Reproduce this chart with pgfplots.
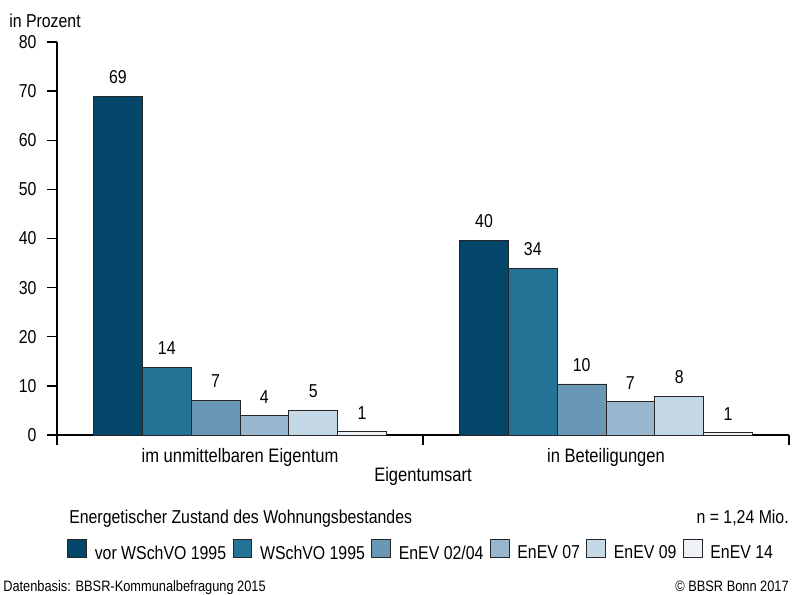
\documentclass[border=0pt]{standalone}
\usepackage{pgfplots}
\pgfplotsset{compat=1.18}
\usepackage{fontspec}
\setmainfont{Liberation Sans}[FakeStretch=0.85]
\definecolor{cA}{HTML}{03466A}
\definecolor{cB}{HTML}{237397}
\definecolor{cC}{HTML}{6B97B7}
\definecolor{cD}{HTML}{98B7CF}
\definecolor{cE}{HTML}{C4D8E6}
\definecolor{cF}{HTML}{EEF2F6}
\newcommand{\mainsize}{\fontsize{14pt}{16pt}\selectfont}
\newcommand{\catsize}{\fontsize{14.6pt}{17pt}\selectfont}
\newcommand{\footsize}{\fontsize{11.3pt}{13pt}\selectfont}

\begin{document}
\mainsize
\begin{tikzpicture}
\useasboundingbox (0,0) rectangle (597pt,445.5pt);
\begin{axis}[
  at={(42.75pt,119.25pt)}, anchor=south west,
  scale only axis, width=549pt, height=294.75pt,
  xmin=0, xmax=2, ymin=0, ymax=80,
  ybar=0pt, bar width=36.6pt,
  axis x line=bottom, axis y line=left,
  axis line style={-, line width=1pt, black},
  tick style={line width=1pt, black},
  tick align=outside, major tick length=7.5pt,
  xtick={0,1,2}, xticklabels={},
  extra x ticks={0.5,1.5},
  extra x tick labels={im unmittelbaren Eigentum, in Beteiligungen},
  extra x tick style={major tick length=0pt,
    xticklabel style={font=\catsize, yshift=-5pt}},
  ytick={0,10,...,80},
  yticklabel style={xshift=-3pt},
  /pgf/number format/assume math mode=true,
  tick label style={font=\mainsize},
  nodes near coords, point meta=explicit symbolic,
  every node near coord/.append style={font=\mainsize, inner sep=0pt, yshift=9pt, black},
  every axis plot/.append style={draw=black!85, line width=0.6pt},
  legend columns=6,
  legend style={at={(0.0137,-0.2646)}, anchor=north west, draw=none, fill=none,
    inner sep=0pt, font=\mainsize,
    nodes={inner xsep=1.5pt, inner ysep=0pt},
    /tikz/every odd column/.style={column sep=4.5pt},
    /tikz/every even column/.style={column sep=3.3pt}},
  legend image code/.code={\draw[#1, draw=black!85, line width=0.6pt] (0pt,-2.5pt) rectangle (14pt,10.5pt);},
  clip=false,
]
\addplot[fill=cA] coordinates {(0.5,68.9)[69] (1.5,39.6)[40]};
\addplot[fill=cB] coordinates {(0.5,13.8)[14] (1.5,33.9)[34]};
\addplot[fill=cC] coordinates {(0.5,7.1)[7] (1.5,10.4)[10]};
\addplot[fill=cD] coordinates {(0.5,3.9)[4] (1.5,6.8)[7]};
\addplot[fill=cE] coordinates {(0.5,5.1)[5] (1.5,7.9)[8]};
\addplot[fill=cF] coordinates {(0.5,0.7)[1] (1.5,0.5)[1]};
\legend{vor WSchVO 1995, WSchVO 1995, EnEV 02/04, EnEV 07, EnEV 09, EnEV 14}

\node[anchor=base west, inner sep=0pt, xshift=-36pt, yshift=11.25pt] at (rel axis cs:0,1) {in Prozent};
\node[anchor=base, inner sep=0pt, font=\catsize, yshift=-34.5pt] at (rel axis cs:0.5,0) {Eigentumsart};
\node[anchor=base west, inner sep=0pt, xshift=9pt, yshift=-66pt] at (rel axis cs:0,0) {Energetischer Zustand des Wohnungsbestandes};
\node[anchor=base east, inner sep=0pt, yshift=-66pt] at (rel axis cs:1,0) {n = 1,24 Mio.};
\node[anchor=base west, inner sep=0pt, font=\footsize, xshift=-40.5pt, yshift=-117pt] at (rel axis cs:0,0) {Datenbasis: BBSR-Kommunalbefragung 2015};
\node[anchor=base east, inner sep=0pt, font=\footsize, yshift=-117pt] at (rel axis cs:1,0) {© BBSR Bonn 2017};
\end{axis}
\end{tikzpicture}
\end{document}
